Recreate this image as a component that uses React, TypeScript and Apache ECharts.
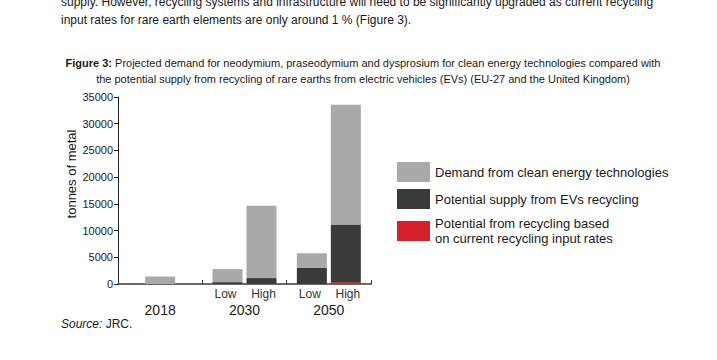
import React, { useEffect, useRef } from "react";
import * as echarts from "echarts";

const years = ["2018", "2030", "2050"];
const scenarios = ["Low", "High"];
const yTicks = [0, 5000, 10000, 15000, 20000, 25000, 30000, 35000];

const demand2018 = [1400, null, null];
const demandLow = [null, 2800, 5750];
const demandHigh = [null, 14650, 33550];
const supplyLow = [null, 350, 3000];
const supplyHigh = [null, 1100, 11150];
const currentRateLow = [null, null, null];
const currentRateHigh = [null, null, 350];

const legendNames = [
  "Demand from clean energy technologies",
  "Potential supply from EVs recycling",
  "Potential from recycling based\non current recycling input rates",
];

const bodyLines = [
  "supply. However, recycling systems and infrastructure will need to be significantly upgraded as current recycling",
  "input rates for rare earth elements are only around 1 % (Figure 3).",
];
const captionBold = "Figure 3:";
const captionLines = [
  " Projected demand for neodymium, praseodymium and dysprosium for clean energy technologies compared with",
  "the potential supply from recycling of rare earths from electric vehicles (EVs) (EU-27 and the United Kingdom)",
];
const yAxisTitle = "tonnes of metal";
const sourceLabel = "Source:";
const sourceText = " JRC.";

const FONT = "Liberation Sans, Arial, sans-serif";
const GREY = "#a9a9a9";
const DARK = "#3a3a3a";
const RED = "#d3202a";

const diff = (a: (number | null)[], b: (number | null)[]) =>
  a.map((v, i) => (v == null ? null : v - (b[i] == null ? 0 : (b[i] as number))));

export default function App() {
  const ref = useRef<HTMLDivElement>(null);
  useEffect(() => {
    if (!ref.current) return;
    const chart = echarts.init(ref.current, null, { renderer: "svg" });
    const barCommon = {
      type: "bar",
      xAxisIndex: 0,
      barWidth: 30,
      barGap: "13.3%",
    };
    const option: any = {
      animation: false,
      textStyle: { fontFamily: FONT },
      grid: { left: 118, right: 346, top: 97, bottom: 76, containLabel: false },
      legend: {
        orient: "vertical",
        left: 397,
        top: 162,
        padding: 0,
        itemWidth: 33,
        itemHeight: 20,
        itemGap: 7,
        icon: "rect",
        selectedMode: false,
        data: legendNames,
        textStyle: { fontSize: 13, color: "#1a1a1a", fontFamily: FONT, lineHeight: 15 },
      },
      xAxis: [
        {
          type: "category",
          data: years,
          boundaryGap: true,
          axisLine: { lineStyle: { color: "#6b6b6b", width: 2 } },
          axisTick: { show: true, inside: true, length: 4, lineStyle: { color: "#333", width: 1 } },
          axisLabel: {
            margin: 3,
            interval: 0,
            color: "#1a1a1a",
            formatter: (v: string, i: number) =>
              i === 0 ? `{s| }\n{y|${v}}` : `{l|${scenarios[0]}}{h|${scenarios[1]}}\n{y|${v}}`,
            rich: {
              s: { fontSize: 12, lineHeight: 14, fontFamily: FONT },
              l: { width: 38, align: "center", fontSize: 12, lineHeight: 14, color: "#333", fontFamily: FONT },
              h: { width: 38, align: "center", fontSize: 12, lineHeight: 14, color: "#333", fontFamily: FONT },
              y: { fontSize: 14, lineHeight: 17, color: "#1a1a1a", fontFamily: FONT },
            },
          },
        },
        { type: "category", data: years, show: false, boundaryGap: true },
      ],
      yAxis: {
        type: "value",
        min: yTicks[0],
        max: yTicks[yTicks.length - 1],
        interval: 5000,
        axisLine: { show: true, lineStyle: { color: "#222", width: 1 } },
        axisTick: { show: true, length: 4, lineStyle: { color: "#222" } },
        axisLabel: {
          fontSize: 11,
          color: "#1a1a1a",
          margin: 5,
          fontFamily: FONT,
          formatter: (v: number) => String(v),
        },
        splitLine: { show: false },
      },
      series: [
        { ...barCommon, name: legendNames[2], stack: "low", data: currentRateLow, itemStyle: { color: RED } },
        { ...barCommon, name: legendNames[1], stack: "low", data: diff(supplyLow, currentRateLow), itemStyle: { color: DARK } },
        { ...barCommon, name: legendNames[0], stack: "low", data: diff(demandLow, supplyLow), itemStyle: { color: GREY } },
        { ...barCommon, name: legendNames[2], stack: "high", data: currentRateHigh, itemStyle: { color: RED } },
        { ...barCommon, name: legendNames[1], stack: "high", data: diff(supplyHigh, currentRateHigh), itemStyle: { color: DARK } },
        { ...barCommon, name: legendNames[0], stack: "high", data: diff(demandHigh, supplyHigh), itemStyle: { color: GREY } },
        { type: "bar", name: legendNames[0], xAxisIndex: 1, barWidth: 30, data: demand2018, itemStyle: { color: GREY } },
      ],
      graphic: [
        {
          type: "text",
          left: 61,
          top: -4,
          style: { text: bodyLines[0], fontSize: 12, fontFamily: FONT, fill: "#1a1a1a" },
        },
        {
          type: "text",
          left: 61,
          top: 14,
          style: { text: bodyLines[1], fontSize: 12, fontFamily: FONT, fill: "#1a1a1a" },
        },
        {
          type: "text",
          x: 363,
          y: 55,
          style: {
            text: `{b|${captionBold}}${captionLines[0]}\n${captionLines[1]}`,
            align: "center",
            fontSize: 11,
            lineHeight: 16,
            fontFamily: FONT,
            fill: "#1a1a1a",
            rich: { b: { fontWeight: "bold", fontSize: 11, fontFamily: FONT, fill: "#1a1a1a" } },
          },
        },
        {
          type: "text",
          x: 71,
          y: 174,
          rotation: Math.PI / 2,
          style: {
            text: yAxisTitle,
            align: "center",
            verticalAlign: "middle",
            fontSize: 13,
            fontFamily: FONT,
            fill: "#1a1a1a",
          },
        },
        {
          type: "text",
          left: 61,
          top: 318,
          style: {
            text: `{i|${sourceLabel}}${sourceText}`,
            fontSize: 12,
            fontFamily: FONT,
            fill: "#1a1a1a",
            rich: { i: { fontStyle: "italic", fontSize: 12, fontFamily: FONT, fill: "#1a1a1a" } },
          },
        },
      ],
    };
    chart.setOption(option);
    return () => chart.dispose();
  }, []);
  return (
    <div
      ref={ref}
      style={{ position: "absolute", left: 0, top: 0, width: 717, height: 360, background: "#fff" }}
    />
  );
}
